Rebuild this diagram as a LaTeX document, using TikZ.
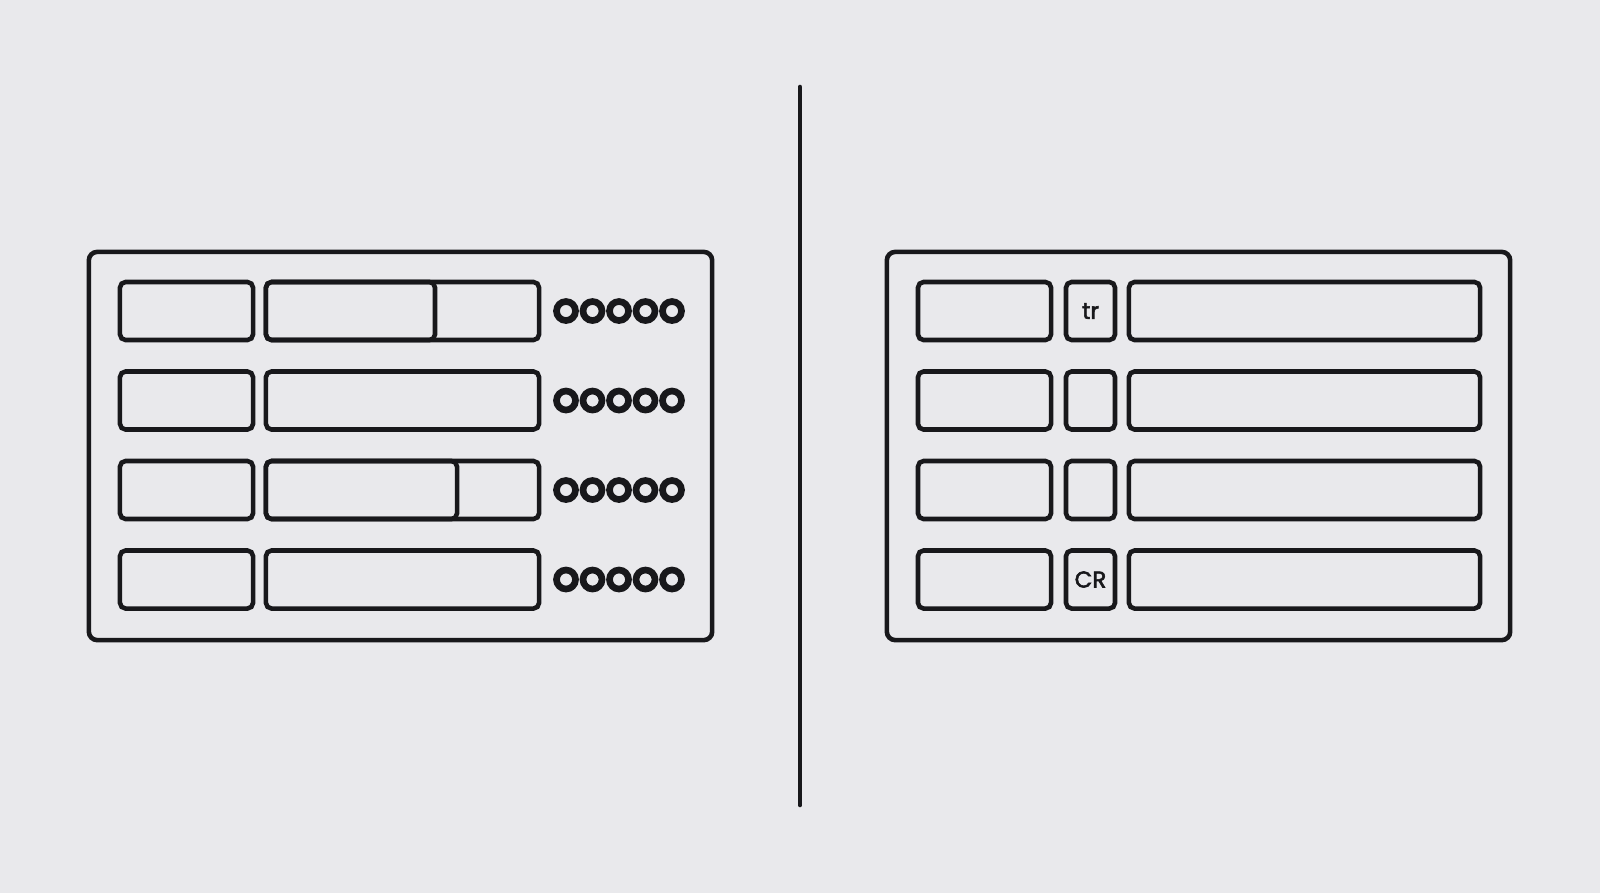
\documentclass[tikz,border=0pt]{standalone}
\usepackage{fontspec}
\newfontfamily\keyfont[FakeBold=2.5]{Poppins}
\definecolor{paper}{RGB}{233,233,236}
\definecolor{ink}{RGB}{24,24,27}
\tikzset{
  card/.style={draw=ink,line width=1.3pt,rounded corners=2.4pt,minimum width=6.23cm,minimum height=3.88cm,inner sep=0pt},
  box/.style={draw=ink,line width=1.3pt,rounded corners=1.6pt,minimum height=0.58cm,inner sep=0pt,font=\keyfont\fontsize{6.5}{7}\selectfont,text=ink},
  dot/.style={circle,draw=ink,line width=1.9pt,minimum size=0.19cm,inner sep=0pt}
}
\begin{document}
\begin{tikzpicture}[x=0.01cm,y=-0.01cm]
\fill[paper] (0,0) rectangle (1600,893);
\useasboundingbox (0,0) rectangle (1600,893);
\node[card] (left) at (400.5,446) {};
\node[card] (right) at (1198.5,446) {};
\coordinate (top) at (800,87);
\coordinate (bottom) at (800,805);
\draw[ink,line width=1.3pt,line cap=round] (top) -- (bottom);
\foreach \i/\t in {0/tr,1/{},2/{},3/CR}{
  \pgfmathsetmacro\y{311+89.5*\i}
  \node[box,minimum width=1.33cm] (lname\i) at (186.5,\y) {};
  \node[box,minimum width=2.73cm] (lbar\i) at (402.5,\y) {};
  \foreach \k in {0,...,4}
    \node[dot] (dot\i\k) at (566+26.5*\k,\y) {};
  \node[box,minimum width=1.33cm] (rname\i) at (984.5,\y) {};
  \node[box,minimum width=0.49cm] (rkey\i) at (1090.5,\y) {\t};
  \node[box,minimum width=3.51cm] (rbar\i) at (1304.5,\y) {};
}
\node[box,minimum width=1.69cm,anchor=west] (lfill0) at (lbar0.west) {};
\node[box,minimum width=1.91cm,anchor=west] (lfill2) at (lbar2.west) {};
\end{tikzpicture}
\end{document}
